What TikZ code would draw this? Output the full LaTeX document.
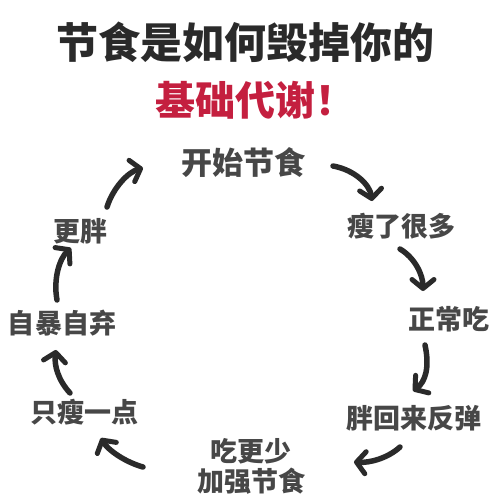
\documentclass[tikz,border=0pt]{standalone}
\usepackage{fontspec}
\newfontfamily\cjk{Noto Sans CJK SC}
\usetikzlibrary{arrows.meta}
\definecolor{ink}{HTML}{2A2A2A}
\definecolor{lbl}{HTML}{474747}
\definecolor{redt}{HTML}{C41F3F}
\tikzset{
  lab/.style={font=\cjk\bfseries\fontsize{27}{30}\selectfont, text=lbl, inner sep=0pt},
  arr/.style={draw=ink, line width=5.5pt, line cap=round,
    -{Straight Barb[length=9pt,width=22pt,line width=5pt,round]}},
}
\begin{document}
\begin{tikzpicture}[x=1pt,y=-1pt]
\useasboundingbox (0,0) rectangle (500,500);
\fill[white] (0,0) rectangle (500,500);
\node[font=\cjk\bfseries\fontsize{42}{44}\selectfont, text=ink, inner sep=0pt] (t1) at (245,42) {节食是如何毁掉你的};
\node[font=\cjk\bfseries\fontsize{40}{42}\selectfont, text=redt, inner sep=0pt, anchor=west] (t2) at (155,100) {基础代谢！};
\node[lab, font=\cjk\bfseries\fontsize{31}{33}\selectfont] (n1) at (243,163) {开始节食};
\node[lab] (n2) at (401,226) {瘦了很多};
\node[lab] (n3) at (449,319) {正常吃};
\node[lab] (n4) at (414,418) {胖回来反弹};
\node[lab, align=center, font=\cjk\bfseries\fontsize{27}{30}\selectfont] (n5) at (251,466) {吃更少\\加强节食};
\node[lab] (n6) at (84,412) {只瘦一点};
\node[lab] (n7) at (62,323) {自暴自弃};
\node[lab] (n8) at (80,231) {更胖};
% arrow end points
\coordinate (a1s) at (333,166); \coordinate (a1e) at (372,201);
\coordinate (a2s) at (400,249); \coordinate (a2e) at (423,291);
\coordinate (a3s) at (425,345); \coordinate (a3e) at (413,391);
\coordinate (a4s) at (400,447); \coordinate (a4e) at (354,462);
\coordinate (a5s) at (143,467); \coordinate (a5e) at (101,438);
\coordinate (a6s) at (70,393);  \coordinate (a6e) at (56,350);
\coordinate (a7s) at (57,300);  \coordinate (a7e) at (71,248);
\coordinate (a8s) at (107,207); \coordinate (a8e) at (143,168);
\draw[arr] (a1s) .. controls (355,170) and (370,185) .. (a1e);
\draw[arr] (a2s) .. controls (415,258) and (423,275) .. (a2e);
\draw[arr] (a3s) .. controls (430,368) and (425,382) .. (a3e);
\draw[arr] (a4s) .. controls (388,458) and (370,463) .. (a4e);
\draw[arr] (a5s) .. controls (125,462) and (108,450) .. (a5e);
\draw[arr] (a6s) .. controls (58,380) and (54,365) .. (a6e);
\draw[arr] (a7s) .. controls (53,278) and (60,258) .. (a7e);
\draw[arr] (a8s) .. controls (113,188) and (128,172) .. (a8e);
\end{tikzpicture}
\end{document}
